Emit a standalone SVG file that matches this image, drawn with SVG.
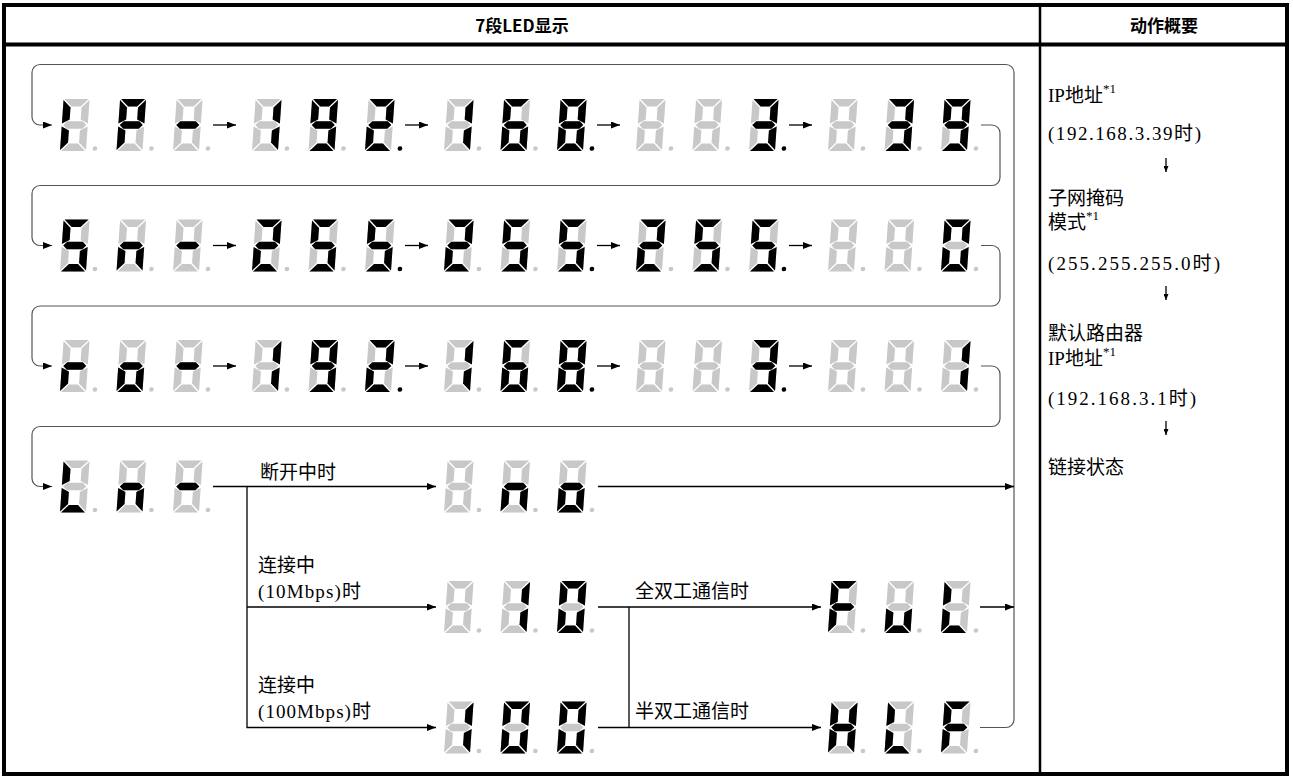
<svg xmlns="http://www.w3.org/2000/svg" width="1293" height="778" viewBox="0 0 1293 778">
<style>
.on{fill:#000}
.t{font-family:"Liberation Serif","Noto Sans CJK SC",serif;font-size:19px;fill:#000}
.h{font-family:"Noto Sans CJK SC",sans-serif;font-size:17px;font-weight:bold;fill:#000;text-anchor:middle}
.sup{font-size:13px}
.loop{fill:none;stroke:#555;stroke-width:1.2}
.ln{fill:none;stroke:#000;stroke-width:1.3}
</style>
<defs>
<marker id="ah" viewBox="0 0 9 7" refX="9" refY="3.5" markerWidth="9" markerHeight="7" markerUnits="userSpaceOnUse" orient="auto"><path d="M0,0 L9,3.5 L0,7 z" fill="#000"/></marker>
<marker id="ahs" viewBox="0 0 6 5" refX="6" refY="2.5" markerWidth="6" markerHeight="5" markerUnits="userSpaceOnUse" orient="auto"><path d="M0,0 L6,2.5 L0,5 z" fill="#000"/></marker>
<polygon id="sa" points="1,0 25,0 17.5,7.5 8.5,7.5"/>
<polygon id="sb" points="26,1 26,24.5 18.5,20.5 18.5,8.5"/>
<polygon id="sc" points="26,27.5 26,51 18.5,43.5 18.5,31.5"/>
<polygon id="sd" points="1,52 25,52 17.5,44.5 8.5,44.5"/>
<polygon id="se" points="0,27.5 7.5,31.5 7.5,43.5 0,51"/>
<polygon id="sf" points="0,1 7.5,8.5 7.5,20.5 0,24.5"/>
<polygon id="sg" points="1.5,26 5.25,22.25 20.75,22.25 24.5,26 20.75,29.75 5.25,29.75"/>
<circle id="sp" cx="34.8" cy="49.5" r="2.3"/>
<g id="d8" fill="#c8c8c8"><use href="#sa"/><use href="#sb"/><use href="#sc"/><use href="#sd"/><use href="#se"/><use href="#sf"/><use href="#sg"/><use href="#sp"/></g>
</defs>
<rect width="1293" height="778" fill="#fff"/>
<g id="table" fill="none" stroke="#000">
<rect x="4" y="5" width="1283" height="769" stroke-width="4"/>
<path d="M4,44.5 H1287" stroke-width="4"/>
<path d="M1040,5 V774" stroke-width="2.5"/>
</g>
<g id="header">
<text class="h" x="522" y="32">7段LED显示</text>
<text class="h" x="1164" y="32">动作概要</text>
</g>
<g id="connectors">
<path class="loop" d="M980,727.5 H1006 A8,8 0 0 0 1014,719.5 V72.5 A8,8 0 0 0 1006,64.5 H40 A8,8 0 0 0 32,72.5 V117 A8,8 0 0 0 40,125 H52" marker-end="url(#ah)"/>
<path class="loop" d="M981,125 H992 A8,8 0 0 1 1000,133 V177.5 A8,8 0 0 1 992,185.5 H40 A8,8 0 0 0 32,193.5 V237.5 A8,8 0 0 0 40,245.5 H52" marker-end="url(#ah)"/>
<path class="loop" d="M981,245.5 H992 A8,8 0 0 1 1000,253.5 V298 A8,8 0 0 1 992,306 H40 A8,8 0 0 0 32,314 V358 A8,8 0 0 0 40,366 H52" marker-end="url(#ah)"/>
<path class="loop" d="M981,366 H992 A8,8 0 0 1 1000,374 V418.5 A8,8 0 0 1 992,426.5 H40 A8,8 0 0 0 32,434.5 V478.5 A8,8 0 0 0 40,486.5 H52" marker-end="url(#ah)"/>
<g class="ln" marker-end="url(#ah)">
<path d="M213,125 H236"/><path d="M405,125 H428"/><path d="M597,125 H620"/><path d="M789,125 H812"/>
<path d="M213,245.5 H236"/><path d="M405,245.5 H428"/><path d="M597,245.5 H620"/><path d="M789,245.5 H812"/>
<path d="M213,366 H236"/><path d="M405,366 H428"/><path d="M597,366 H620"/><path d="M789,366 H812"/>
<path d="M213,486.5 H436"/>
<path d="M247,486.5 V727.5 H436"/>
<path d="M247,607 H436"/>
<path d="M598,486.5 H1014"/>
<path d="M598,607 H821"/>
<path d="M598,727.5 H821"/>
<path d="M980,607 H1014"/>
</g>
<path class="ln" d="M629,607 V727.5"/>
</g>
<g id="labels" class="t">
<text x="260" y="479">断开中时</text>
<text x="258" y="572">连接中</text>
<text x="258" y="598" textLength="103">(10Mbps)时</text>
<text x="258" y="692">连接中</text>
<text x="258" y="718" textLength="113">(100Mbps)时</text>
<text x="635" y="598">全双工通信时</text>
<text x="635" y="718">半双工通信时</text>
</g>
<g id="summary">
<g class="t">
<text x="1048" y="102">IP地址<tspan class="sup" dy="-9">*1</tspan></text>
<text x="1048" y="140" textLength="153">(192.168.3.39时)</text>
<text x="1048" y="205">子网掩码</text>
<text x="1048" y="229">模式<tspan class="sup" dy="-9">*1</tspan></text>
<text x="1048" y="270" textLength="172">(255.255.255.0时)</text>
<text x="1048" y="340">默认路由器</text>
<text x="1048" y="365">IP地址<tspan class="sup" dy="-9">*1</tspan></text>
<text x="1048" y="405" textLength="148">(192.168.3.1时)</text>
<text x="1048" y="474">链接状态</text>
</g>
<g class="ln" marker-end="url(#ahs)">
<path d="M1166,158 V172"/>
<path d="M1166,286 V300"/>
<path d="M1166,421 V435"/>
</g>
</g>
<g id="r1-IP">
<g transform="translate(63.6,99) skewX(-4)"><use href="#d8"/><g class="on"><use href="#se"/><use href="#sf"/></g></g>
<g transform="translate(120.1,99) skewX(-4)"><use href="#d8"/><g class="on"><use href="#sa"/><use href="#sb"/><use href="#se"/><use href="#sf"/><use href="#sg"/></g></g>
<g transform="translate(176.6,99) skewX(-4)"><use href="#d8"/><g class="on"><use href="#sg"/></g></g>
</g>
<g id="r1-192">
<g transform="translate(255.6,99) skewX(-4)"><use href="#d8"/><g class="on"><use href="#sb"/><use href="#sc"/></g></g>
<g transform="translate(312.1,99) skewX(-4)"><use href="#d8"/><g class="on"><use href="#sa"/><use href="#sb"/><use href="#sc"/><use href="#sd"/><use href="#sf"/><use href="#sg"/></g></g>
<g transform="translate(368.6,99) skewX(-4)"><use href="#d8"/><g class="on"><use href="#sa"/><use href="#sb"/><use href="#sd"/><use href="#se"/><use href="#sg"/><use href="#sp"/></g></g>
</g>
<g id="r1-168">
<g transform="translate(447.6,99) skewX(-4)"><use href="#d8"/><g class="on"><use href="#sb"/><use href="#sc"/></g></g>
<g transform="translate(504.1,99) skewX(-4)"><use href="#d8"/><g class="on"><use href="#sa"/><use href="#sc"/><use href="#sd"/><use href="#se"/><use href="#sf"/><use href="#sg"/></g></g>
<g transform="translate(560.6,99) skewX(-4)"><use href="#d8"/><g class="on"><use href="#sa"/><use href="#sb"/><use href="#sc"/><use href="#sd"/><use href="#se"/><use href="#sf"/><use href="#sg"/><use href="#sp"/></g></g>
</g>
<g id="r1-3">
<g transform="translate(639.6,99) skewX(-4)"><use href="#d8"/></g>
<g transform="translate(696.1,99) skewX(-4)"><use href="#d8"/></g>
<g transform="translate(752.6,99) skewX(-4)"><use href="#d8"/><g class="on"><use href="#sa"/><use href="#sb"/><use href="#sc"/><use href="#sd"/><use href="#sg"/><use href="#sp"/></g></g>
</g>
<g id="r1-39">
<g transform="translate(831.6,99) skewX(-4)"><use href="#d8"/></g>
<g transform="translate(888.1,99) skewX(-4)"><use href="#d8"/><g class="on"><use href="#sa"/><use href="#sb"/><use href="#sc"/><use href="#sd"/><use href="#sg"/></g></g>
<g transform="translate(944.6,99) skewX(-4)"><use href="#d8"/><g class="on"><use href="#sa"/><use href="#sb"/><use href="#sc"/><use href="#sd"/><use href="#sf"/><use href="#sg"/></g></g>
</g>
<g id="r2-Sn">
<g transform="translate(63.6,219.5) skewX(-4)"><use href="#d8"/><g class="on"><use href="#sa"/><use href="#sc"/><use href="#sd"/><use href="#sf"/><use href="#sg"/></g></g>
<g transform="translate(120.1,219.5) skewX(-4)"><use href="#d8"/><g class="on"><use href="#sc"/><use href="#se"/><use href="#sg"/></g></g>
<g transform="translate(176.6,219.5) skewX(-4)"><use href="#d8"/><g class="on"><use href="#sg"/></g></g>
</g>
<g id="r2-255a">
<g transform="translate(255.6,219.5) skewX(-4)"><use href="#d8"/><g class="on"><use href="#sa"/><use href="#sb"/><use href="#sd"/><use href="#se"/><use href="#sg"/></g></g>
<g transform="translate(312.1,219.5) skewX(-4)"><use href="#d8"/><g class="on"><use href="#sa"/><use href="#sc"/><use href="#sd"/><use href="#sf"/><use href="#sg"/></g></g>
<g transform="translate(368.6,219.5) skewX(-4)"><use href="#d8"/><g class="on"><use href="#sa"/><use href="#sc"/><use href="#sd"/><use href="#sf"/><use href="#sg"/><use href="#sp"/></g></g>
</g>
<g id="r2-255b">
<g transform="translate(447.6,219.5) skewX(-4)"><use href="#d8"/><g class="on"><use href="#sa"/><use href="#sb"/><use href="#sd"/><use href="#se"/><use href="#sg"/></g></g>
<g transform="translate(504.1,219.5) skewX(-4)"><use href="#d8"/><g class="on"><use href="#sa"/><use href="#sc"/><use href="#sd"/><use href="#sf"/><use href="#sg"/></g></g>
<g transform="translate(560.6,219.5) skewX(-4)"><use href="#d8"/><g class="on"><use href="#sa"/><use href="#sc"/><use href="#sd"/><use href="#sf"/><use href="#sg"/><use href="#sp"/></g></g>
</g>
<g id="r2-255c">
<g transform="translate(639.6,219.5) skewX(-4)"><use href="#d8"/><g class="on"><use href="#sa"/><use href="#sb"/><use href="#sd"/><use href="#se"/><use href="#sg"/></g></g>
<g transform="translate(696.1,219.5) skewX(-4)"><use href="#d8"/><g class="on"><use href="#sa"/><use href="#sc"/><use href="#sd"/><use href="#sf"/><use href="#sg"/></g></g>
<g transform="translate(752.6,219.5) skewX(-4)"><use href="#d8"/><g class="on"><use href="#sa"/><use href="#sc"/><use href="#sd"/><use href="#sf"/><use href="#sg"/><use href="#sp"/></g></g>
</g>
<g id="r2-0">
<g transform="translate(831.6,219.5) skewX(-4)"><use href="#d8"/></g>
<g transform="translate(888.1,219.5) skewX(-4)"><use href="#d8"/></g>
<g transform="translate(944.6,219.5) skewX(-4)"><use href="#d8"/><g class="on"><use href="#sa"/><use href="#sb"/><use href="#sc"/><use href="#sd"/><use href="#se"/><use href="#sf"/></g></g>
</g>
<g id="r3-ro">
<g transform="translate(63.6,340) skewX(-4)"><use href="#d8"/><g class="on"><use href="#se"/><use href="#sg"/></g></g>
<g transform="translate(120.1,340) skewX(-4)"><use href="#d8"/><g class="on"><use href="#sc"/><use href="#sd"/><use href="#se"/><use href="#sg"/></g></g>
<g transform="translate(176.6,340) skewX(-4)"><use href="#d8"/><g class="on"><use href="#sg"/></g></g>
</g>
<g id="r3-192">
<g transform="translate(255.6,340) skewX(-4)"><use href="#d8"/><g class="on"><use href="#sb"/><use href="#sc"/></g></g>
<g transform="translate(312.1,340) skewX(-4)"><use href="#d8"/><g class="on"><use href="#sa"/><use href="#sb"/><use href="#sc"/><use href="#sd"/><use href="#sf"/><use href="#sg"/></g></g>
<g transform="translate(368.6,340) skewX(-4)"><use href="#d8"/><g class="on"><use href="#sa"/><use href="#sb"/><use href="#sd"/><use href="#se"/><use href="#sg"/><use href="#sp"/></g></g>
</g>
<g id="r3-168">
<g transform="translate(447.6,340) skewX(-4)"><use href="#d8"/><g class="on"><use href="#sb"/><use href="#sc"/></g></g>
<g transform="translate(504.1,340) skewX(-4)"><use href="#d8"/><g class="on"><use href="#sa"/><use href="#sc"/><use href="#sd"/><use href="#se"/><use href="#sf"/><use href="#sg"/></g></g>
<g transform="translate(560.6,340) skewX(-4)"><use href="#d8"/><g class="on"><use href="#sa"/><use href="#sb"/><use href="#sc"/><use href="#sd"/><use href="#se"/><use href="#sf"/><use href="#sg"/><use href="#sp"/></g></g>
</g>
<g id="r3-3">
<g transform="translate(639.6,340) skewX(-4)"><use href="#d8"/></g>
<g transform="translate(696.1,340) skewX(-4)"><use href="#d8"/></g>
<g transform="translate(752.6,340) skewX(-4)"><use href="#d8"/><g class="on"><use href="#sa"/><use href="#sb"/><use href="#sc"/><use href="#sd"/><use href="#sg"/><use href="#sp"/></g></g>
</g>
<g id="r3-1">
<g transform="translate(831.6,340) skewX(-4)"><use href="#d8"/></g>
<g transform="translate(888.1,340) skewX(-4)"><use href="#d8"/></g>
<g transform="translate(944.6,340) skewX(-4)"><use href="#d8"/><g class="on"><use href="#sb"/><use href="#sc"/></g></g>
</g>
<g id="r4-Ln">
<g transform="translate(63.6,460.5) skewX(-4)"><use href="#d8"/><g class="on"><use href="#sd"/><use href="#se"/><use href="#sf"/></g></g>
<g transform="translate(120.1,460.5) skewX(-4)"><use href="#d8"/><g class="on"><use href="#sc"/><use href="#se"/><use href="#sg"/></g></g>
<g transform="translate(176.6,460.5) skewX(-4)"><use href="#d8"/><g class="on"><use href="#sg"/></g></g>
</g>
<g id="r4-no">
<g transform="translate(447.6,460.5) skewX(-4)"><use href="#d8"/></g>
<g transform="translate(504.1,460.5) skewX(-4)"><use href="#d8"/><g class="on"><use href="#sc"/><use href="#se"/><use href="#sg"/></g></g>
<g transform="translate(560.6,460.5) skewX(-4)"><use href="#d8"/><g class="on"><use href="#sc"/><use href="#sd"/><use href="#se"/><use href="#sg"/></g></g>
</g>
<g id="r5-10">
<g transform="translate(447.6,581) skewX(-4)"><use href="#d8"/></g>
<g transform="translate(504.1,581) skewX(-4)"><use href="#d8"/><g class="on"><use href="#sb"/><use href="#sc"/></g></g>
<g transform="translate(560.6,581) skewX(-4)"><use href="#d8"/><g class="on"><use href="#sa"/><use href="#sb"/><use href="#sc"/><use href="#sd"/><use href="#se"/><use href="#sf"/></g></g>
</g>
<g id="r5-FuL">
<g transform="translate(831.6,581) skewX(-4)"><use href="#d8"/><g class="on"><use href="#sa"/><use href="#se"/><use href="#sf"/><use href="#sg"/></g></g>
<g transform="translate(888.1,581) skewX(-4)"><use href="#d8"/><g class="on"><use href="#sc"/><use href="#sd"/><use href="#se"/></g></g>
<g transform="translate(944.6,581) skewX(-4)"><use href="#d8"/><g class="on"><use href="#sd"/><use href="#se"/><use href="#sf"/></g></g>
</g>
<g id="r6-100">
<g transform="translate(447.6,701.5) skewX(-4)"><use href="#d8"/><g class="on"><use href="#sb"/><use href="#sc"/></g></g>
<g transform="translate(504.1,701.5) skewX(-4)"><use href="#d8"/><g class="on"><use href="#sa"/><use href="#sb"/><use href="#sc"/><use href="#sd"/><use href="#se"/><use href="#sf"/></g></g>
<g transform="translate(560.6,701.5) skewX(-4)"><use href="#d8"/><g class="on"><use href="#sa"/><use href="#sb"/><use href="#sc"/><use href="#sd"/><use href="#se"/><use href="#sf"/></g></g>
</g>
<g id="r6-HLF">
<g transform="translate(831.6,701.5) skewX(-4)"><use href="#d8"/><g class="on"><use href="#sb"/><use href="#sc"/><use href="#se"/><use href="#sf"/><use href="#sg"/></g></g>
<g transform="translate(888.1,701.5) skewX(-4)"><use href="#d8"/><g class="on"><use href="#sd"/><use href="#se"/><use href="#sf"/></g></g>
<g transform="translate(944.6,701.5) skewX(-4)"><use href="#d8"/><g class="on"><use href="#sa"/><use href="#se"/><use href="#sf"/><use href="#sg"/></g></g>
</g>
</svg>
